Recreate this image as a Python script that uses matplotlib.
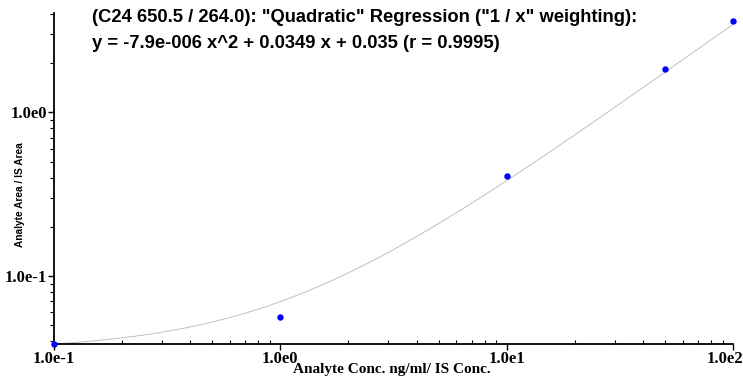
"""
Calibration curve plot (log-log), quadratic regression with 1/x weighting.
"""
import matplotlib
matplotlib.use("Agg")
import matplotlib.pyplot as plt
from matplotlib.ticker import LogLocator, FixedLocator, NullFormatter
from matplotlib.transforms import ScaledTranslation
import numpy as np

# DATA
########################
conc = [0.1, 1.0, 10.0, 50.0, 100.0]          # analyte conc. ng/ml / IS conc.
ratio = [0.0385, 0.0562, 0.407, 1.83, 3.64]    # analyte area / IS area
fit_coef = [-7.9e-6, 0.0349, 0.035]            # a, b, c of the quadratic fit

x_ticks = [0.1, 1.0, 10.0, 100.0]
x_tick_labels = ["1.0e-1", "1.0e0", "1.0e1", "1.0e2"]
y_ticks = [0.1, 1.0]
y_tick_labels = ["1.0e-1", "1.0e0"]

title_1 = '(C24 650.5 / 264.0): "Quadratic" Regression ("1 / x" weighting):'
title_2 = "y = -7.9e-006 x^2 + 0.0349 x + 0.035 (r = 0.9995)"

# PLOT
########################
fig = plt.figure(figsize=(7.43, 3.77), dpi=100)
ax = fig.add_axes([54 / 743, 33 / 377, 679 / 743, 331 / 377])

xs = np.logspace(np.log10(conc[0]), np.log10(conc[-1]), 300)
ys = np.polyval(fit_coef, xs)
ax.plot(xs, ys, color="#c0c0c0", lw=0.7, zorder=1)
ax.scatter(conc, ratio, s=13, color="#0000ff", zorder=3, clip_on=False)

ax.set_xscale("log")
ax.set_yscale("log")
ax.set_xlim(0.1, 100)
ax.set_ylim(0.0385, 4.05)

for s in ["top", "right"]:
    ax.spines[s].set_visible(False)
for s in ["left", "bottom"]:
    ax.spines[s].set_linewidth(1.3)

serif = "Liberation Serif"
ax.xaxis.set_major_locator(FixedLocator(x_ticks))
ax.set_xticklabels(x_tick_labels, fontfamily=serif, fontweight="bold", fontsize=12)
ax.yaxis.set_major_locator(FixedLocator(y_ticks))
ax.set_yticklabels(y_tick_labels, fontfamily=serif, fontweight="bold", fontsize=12)
ax.xaxis.set_minor_locator(LogLocator(base=10, subs=np.arange(2, 10)))
ax.yaxis.set_minor_locator(LogLocator(base=10, subs=np.arange(2, 10)))
ax.xaxis.set_minor_formatter(NullFormatter())
ax.yaxis.set_minor_formatter(NullFormatter())

ax.tick_params(axis="x", which="major", direction="out", length=4, width=1, pad=1)
ax.tick_params(axis="x", which="minor", direction="in", length=3, width=0.8)
ax.tick_params(axis="y", which="major", direction="out", length=4, width=1, pad=1)
ax.tick_params(axis="y", which="minor", direction="out", length=3, width=0.8)

# last x label is pushed left so it stays inside the picture
last = ax.get_xticklabels()[-1]
last.set_transform(last.get_transform() + ScaledTranslation(-0.085, 0, fig.dpi_scale_trans))

fig.text(0.528, 1 - 369.5 / 377, "Analyte Conc. ng/ml/ IS Conc.", ha="center", va="center",
         fontfamily=serif, fontweight="bold", fontsize=11)
fig.text(0.027, 0.485, "Analyte Area / IS Area", rotation=90, ha="center", va="center",
         fontfamily="Liberation Sans", fontweight="bold", fontsize=7.3)

fig.text(92 / 743, 1 - 18 / 377, title_1, ha="left", va="center",
         fontfamily="Liberation Sans", fontweight="bold", fontsize=13.2)
fig.text(92 / 743, 1 - 44 / 377, title_2, ha="left", va="center",
         fontfamily="Liberation Sans", fontweight="bold", fontsize=13.2)

fig.savefig("out.png", dpi=100)
